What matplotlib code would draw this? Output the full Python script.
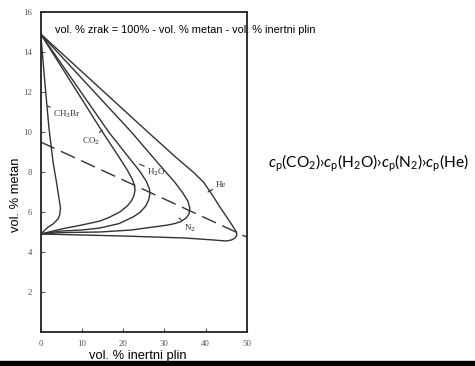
import matplotlib
matplotlib.use("Agg")
import matplotlib.pyplot as plt
from matplotlib.patches import Rectangle

plt.rcParams['mathtext.fontset'] = 'custom'
plt.rcParams['mathtext.rm'] = 'Lato'
plt.rcParams['mathtext.it'] = 'Lato:italic'

# flammability envelopes (vol. % inert gas, vol. % methane)
ch3br_x = [0, 1.0, 2.0, 3.0, 3.9, 4.5, 4.8, 4.6, 4.2, 3.0, 1.8, 0.8, 0]
ch3br_y = [14.9, 12.5, 10.2, 8.5, 7.4, 6.6, 6.2, 5.85, 5.65, 5.4, 5.25, 5.05, 4.9]

co2_x = [0, 15.0, 19.0, 21.0, 22.2, 22.8, 22.9, 22.6, 22.0, 21.0, 19.2, 16.5, 14.4, 10, 5, 0]
co2_y = [14.9, 10.0, 8.75, 8.1, 7.65, 7.3, 7.1, 6.8, 6.55, 6.3, 6.0, 5.72, 5.55, 5.35, 5.15, 4.9]

h2o_x = [0, 16.5, 21.5, 24.0, 25.6, 26.4, 26.5, 26.2, 25.5, 24.2, 22.5, 19, 14.4, 10, 5, 0]
h2o_y = [14.9, 10.0, 8.7, 8.05, 7.55, 7.15, 6.9, 6.6, 6.3, 6.0, 5.76, 5.42, 5.2, 5.1, 5.05, 4.9]

n2_x = [0, 22, 29.5, 32.5, 34.5, 35.7, 36.2, 36.0, 35.3, 34, 32.5, 30.6, 22, 14.4, 5, 0]
n2_y = [14.9, 10.0, 8.2, 7.5, 6.95, 6.55, 6.2, 5.9, 5.7, 5.52, 5.42, 5.34, 5.1, 5.0, 4.97, 4.9]

he_x = [0, 26, 33, 37, 39.5, 41.5, 43.5, 45.3, 46.6, 47.5, 47.6, 47.2, 46.3, 45, 42, 35, 20, 0]
he_y = [14.9, 10.0, 8.7, 8.0, 7.5, 6.9, 6.25, 5.7, 5.3, 5.0, 4.85, 4.7, 4.6, 4.55, 4.6, 4.7, 4.8, 4.9]

# dashed stoichiometric line
stoich_x = [0, 50]
stoich_y = [9.5, 4.75]

x_ticks = [0, 10, 20, 30, 40, 50]
y_ticks = [2, 4, 6, 8, 10, 12, 14, 16]

fig = plt.figure(figsize=(4.75, 3.66), dpi=100)
ax = fig.add_axes([40.7 / 475, 1 - 332 / 366, 206 / 475, 320 / 366])

line_col = '#333333'
for xs, ys in [(ch3br_x, ch3br_y), (co2_x, co2_y), (h2o_x, h2o_y), (n2_x, n2_y), (he_x, he_y)]:
    ax.plot(xs, ys, color=line_col, lw=1.0)
ax.plot(stoich_x, stoich_y, color=line_col, lw=1.0, dashes=(11, 5))

ax.set_xlim(0, 50)
ax.set_ylim(0, 16)
ax.set_xticks(x_ticks)
ax.set_yticks(y_ticks)
ax.tick_params(direction='in', length=3, width=0.8, colors='#555555',
               labelsize=6.3, pad=6)
for lab in ax.get_xticklabels() + ax.get_yticklabels():
    lab.set_family('Liberation Serif')
for sp in ax.spines.values():
    sp.set_linewidth(1.3)
    sp.set_color('#222222')

# curve labels with short leader lines
lab_kw = dict(fontsize=6.5, family='Liberation Serif', color='#333333',
              arrowprops=dict(arrowstyle='-', color='#333333', lw=0.8,
                              shrinkA=0, shrinkB=0))
ax.annotate('CH$_3$Br', xy=(1.6, 11.3), xytext=(3.0, 10.9), va='center', **lab_kw)
ax.annotate('CO$_2$', xy=(14.9, 10.1), xytext=(14.3, 9.55), va='center', ha='right', **lab_kw)
ax.annotate('H$_2$O', xy=(24.0, 8.4), xytext=(25.8, 8.0), va='center', **lab_kw)
ax.annotate('He', xy=(40.6, 7.0), xytext=(42.4, 7.35), va='center', **lab_kw)
ax.annotate('N$_2$', xy=(33.6, 5.7), xytext=(34.8, 5.2), va='center', **lab_kw)

ax.text(3.5, 15.1, 'vol. % zrak = 100% - vol. % metan - vol. % inertni plin',
        fontsize=7.9, family='Liberation Sans', va='center', ha='left')

fig.text(16 / 475, 1 - 195 / 366, 'vol. % metan', rotation=90, fontsize=9.3,
         family='Liberation Sans', ha='center', va='center')
fig.text(138 / 475, 1 - 356 / 366, 'vol. % inertni plin', fontsize=9.3,
         family='Liberation Sans', ha='center', va='center')

fig.text(268 / 475, 1 - 163 / 366,
         r'$c_\mathrm{p}$(CO$_2$)›$c_\mathrm{p}$(H$_2$O)›$c_\mathrm{p}$(N$_2$)›$c_\mathrm{p}$(He)',
         fontsize=11.2, family=['Lato', 'DejaVu Sans'], ha='left', va='center')

# black strip along the bottom edge
fig.patches.append(Rectangle((0, 0), 1, 5.5 / 366, transform=fig.transFigure,
                             color='black', zorder=10))

fig.savefig('out.png', dpi=100)
